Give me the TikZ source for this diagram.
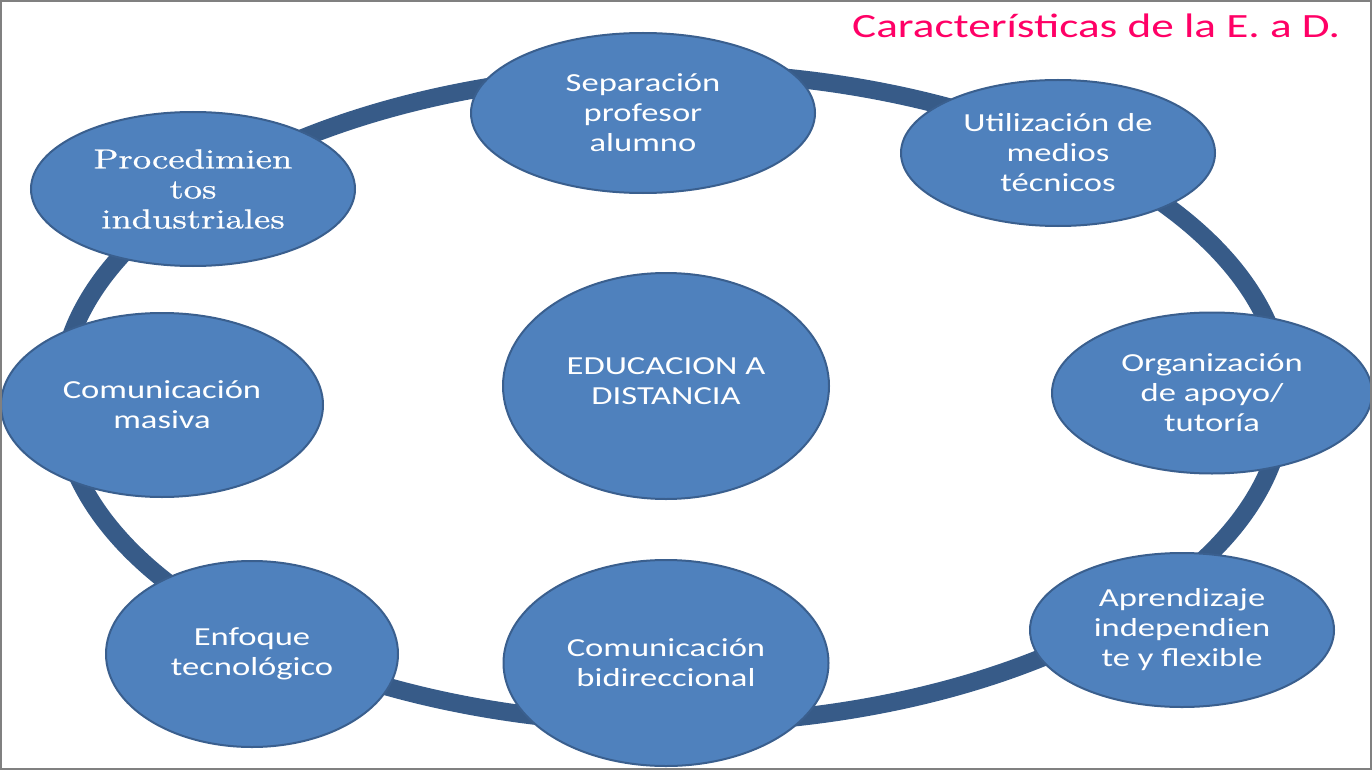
\documentclass[tikz,border=0pt]{standalone}
\usepackage{fontspec}
\setmainfont{Carlito}[FakeStretch=1.33]
\newfontfamily\lmserif{lmroman10-regular.otf}[FakeStretch=1.33,FakeBold=0.8]
\usetikzlibrary{shapes.geometric}
\definecolor{fillblue}{HTML}{4F81BD}
\definecolor{edgeblue}{HTML}{3A5F8E}
\definecolor{ringblue}{HTML}{375B88}
\definecolor{titlepink}{HTML}{FF0066}
\definecolor{framegray}{HTML}{808080}
\tikzset{
  bubble/.style={ellipse, draw=edgeblue, line width=2pt, fill=fillblue,
    text=white, align=center, inner sep=0pt,
    font=\fontsize{26}{30}\selectfont},
  ring/.style={draw=ringblue, line width=18pt},
  titletext/.style={text=titlepink, font=\fontsize{34}{40}\selectfont, inner sep=0pt},
  frame/.style={draw=framegray, line width=2pt}
}
\begin{document}
\begin{tikzpicture}[x=1pt,y=-1pt]
\useasboundingbox (0,0) rectangle (1372,770);
\begin{scope}
\clip (0,0) rectangle (1372,770);
\fill[white] (0,0) rectangle (1372,770);
\path[ring] (672,398) ellipse [x radius=612, y radius=326];
\node[bubble, minimum width=344, minimum height=160] (sep) at (643,113) {Separación\\profesor\\alumno};
\node[bubble, minimum width=314, minimum height=146] (util) at (1058,153) {Utilización de\\medios\\técnicos};
\node[bubble, minimum width=324, minimum height=154, font=\lmserif\fontsize{27.5}{30}\selectfont] (proc) at (193,189) {Procedimien\\tos\\industriales};
\node[bubble, minimum width=326, minimum height=226] (edu) at (666,386) {};
\node[text=white, align=center, inner sep=0pt, font=\fontsize{26}{30}\selectfont] (edutext) at (666,381) {EDUCACION A\\DISTANCIA};
\node[bubble, minimum width=320, minimum height=161] (org) at (1212,393) {Organización\\de apoyo/\\tutoría};
\node[bubble, minimum width=322, minimum height=184] (masiva) at (162,405) {Comunicación\\masiva};
\node[bubble, minimum width=292, minimum height=186] (enf) at (252,654) {Enfoque\\tecnológico};
\node[bubble, minimum width=325, minimum height=206] (bidi) at (666,663) {Comunicación\\bidireccional};
\node[bubble, minimum width=304, minimum height=154] (apr) at (1182,630) {Aprendizaje\\independien\\te y flexible};
\end{scope}
\node[titletext, anchor=base west] (title) at (852,38) {Características de la E. a D.};
\path[frame] (1,1) rectangle (1371,769);
\end{tikzpicture}
\end{document}
